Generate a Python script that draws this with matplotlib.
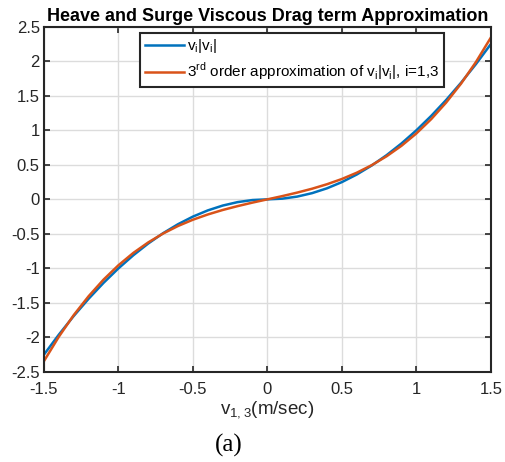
import matplotlib.pyplot as plt
import numpy as np

plt.rcParams['font.family'] = ['Liberation Sans', 'DejaVu Sans']

# data
v = [-1.5, -1.4, -1.3, -1.2, -1.1, -1.0, -0.9, -0.8, -0.7, -0.6, -0.5, -0.4,
     -0.3, -0.2, -0.1, 0.0, 0.1, 0.2, 0.3, 0.4, 0.5, 0.6, 0.7, 0.8, 0.9, 1.0,
     1.1, 1.2, 1.3, 1.4, 1.5]
drag = [-2.25, -1.96, -1.69, -1.44, -1.21, -1.0, -0.81, -0.64, -0.49, -0.36,
        -0.25, -0.16, -0.09, -0.04, -0.01, 0.0, 0.01, 0.04, 0.09, 0.16, 0.25,
        0.36, 0.49, 0.64, 0.81, 1.0, 1.21, 1.44, 1.69, 1.96, 2.25]
approx = [-2.344, -1.99, -1.677, -1.403, -1.163, -0.955, -0.776, -0.624,
          -0.495, -0.386, -0.295, -0.219, -0.154, -0.098, -0.047, 0.0, 0.047,
          0.098, 0.154, 0.219, 0.295, 0.386, 0.495, 0.624, 0.776, 0.955, 1.163,
          1.403, 1.677, 1.99, 2.344]
xticks = [-1.5, -1, -0.5, 0, 0.5, 1, 1.5]
yticks = [-2.5, -2, -1.5, -1, -0.5, 0, 0.5, 1, 1.5, 2, 2.5]

fig = plt.figure(figsize=(5.05, 4.62), dpi=100)
ax = fig.add_axes([0.087, 0.195, 0.885, 0.747])

ax.plot(v, drag, color="#0072BD", linewidth=1.8, label=r"v$_\mathregular{i}$|v$_\mathregular{i}$|")
ax.plot(v, approx, color="#D95319", linewidth=1.8,
        label=r"3$^\mathregular{rd}$ order approximation of v$_\mathregular{i}$|v$_\mathregular{i}$|, i=1,3")

ax.set_xlim(-1.5, 1.5)
ax.set_ylim(-2.5, 2.5)
ax.set_xticks(xticks)
ax.set_yticks(yticks)
ax.set_xticklabels(["-1.5", "-1", "-0.5", "0", "0.5", "1", "1.5"])
ax.set_yticklabels(["-2.5", "-2", "-1.5", "-1", "-0.5", "0", "0.5", "1", "1.5", "2", "2.5"])
ax.grid(True, color="#dcdcdc", linewidth=1.0)
ax.set_axisbelow(True)
ax.tick_params(direction="in", top=True, right=True, labelsize=12, colors="#262626",
               length=4, width=1.2, pad=3)
ax.tick_params(axis="x", pad=7)
for s in ax.spines.values():
    s.set_linewidth(1.5)
    s.set_color("#262626")

ax.set_title("Heave and Surge Viscous Drag term Approximation", fontsize=13,
             fontweight="bold", pad=4)
ax.set_xlabel(r"v$_\mathregular{1,3}$(m/sec)", fontsize=13.5, color="#262626", labelpad=2)

leg = ax.legend(loc="upper left", bbox_to_anchor=(0.215, 0.983), fontsize=11,
                fancybox=False, framealpha=1, handlelength=2.6, borderpad=0.3,
                labelspacing=0.35, handletextpad=0.2, borderaxespad=0)
leg.get_frame().set_edgecolor("#262626")
leg.get_frame().set_linewidth(1.5)

fig.text(0.452, 0.022, "(a)", fontsize=18, family="Liberation Serif", ha="center")

plt.savefig("out.png", dpi=100)
